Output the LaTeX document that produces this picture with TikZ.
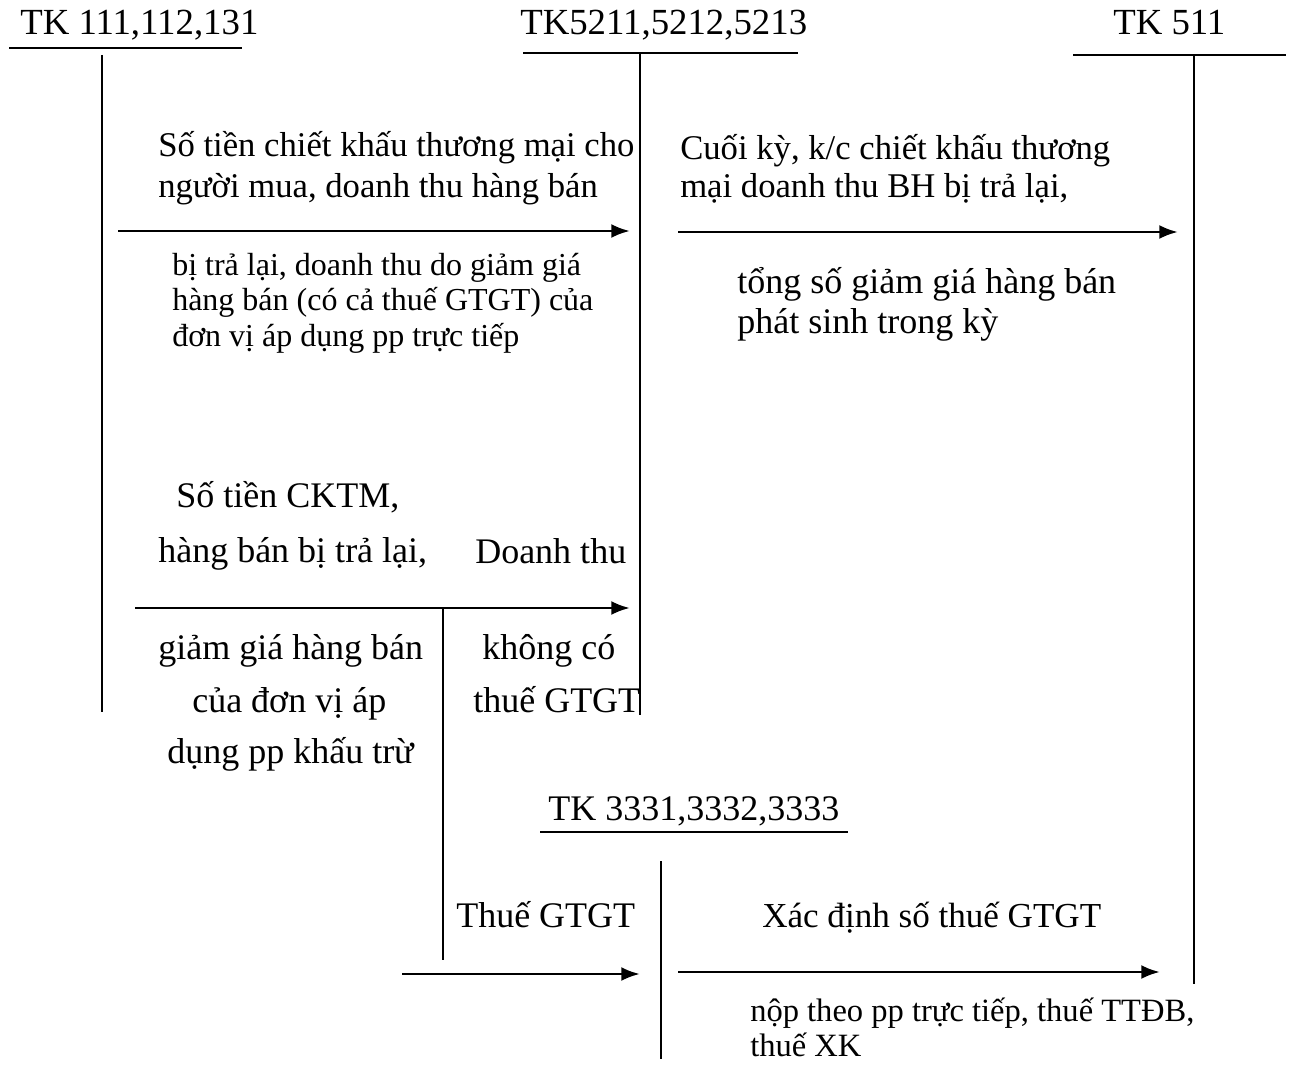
\documentclass[tikz,border=0pt]{standalone}
\usepackage{fontspec}
\setmainfont{Liberation Serif}
\usetikzlibrary{arrows.meta}
\begin{document}
\begin{tikzpicture}[x=0.75pt,y=-0.75pt,
  acct/.style={line width=2.2pt},
  flow/.style={line width=2.2pt,-{Latex[length=14pt,width=10.5pt]}},
  big/.style={anchor=base west,inner sep=0pt,font=\fontsize{27}{30}\selectfont},
  mid/.style={anchor=base west,inner sep=0pt,font=\fontsize{26}{30}\selectfont},
  head/.style={anchor=base west,inner sep=0pt,font=\fontsize{27.6}{30}\selectfont},
  small/.style={anchor=base west,inner sep=0pt,font=\fontsize{24}{27}\selectfont}]
\useasboundingbox (0,0) rectangle (1290,1066);

% account headings
\node[head] (h111) at (20,35) {TK 111,112,131};
\node[head] (h521) at (520,35) {TK5211,5212,5213};
\node[head] (h511) at (1113,35) {TK 511};
\node[big] (h333) at (548,820) {TK 3331,3332,3333};

% T-accounts
\coordinate (a1l) at (9,48);   \coordinate (a1r) at (242,48);
\coordinate (a1t) at (102,55); \coordinate (a1b) at (102,712);
\coordinate (a2l) at (523,53); \coordinate (a2r) at (798,53);
\coordinate (a2t) at (640,53); \coordinate (a2b) at (640,715);
\coordinate (a3l) at (1073,55); \coordinate (a3r) at (1286,55);
\coordinate (a3t) at (1194,55); \coordinate (a3b) at (1194,984);
\coordinate (a4l) at (540,832); \coordinate (a4r) at (848,832);
\coordinate (a4t) at (661,861); \coordinate (a4b) at (661,1059);
\draw[acct] (a1l) -- (a1r) (a1t) -- (a1b);
\draw[acct] (a2l) -- (a2r) (a2t) -- (a2b);
\draw[acct] (a3l) -- (a3r) (a3t) -- (a3b);
\draw[acct] (a4l) -- (a4r) (a4t) -- (a4b);

% flows
\coordinate (f1s) at (118,231);  \coordinate (f1e) at (630,231);
\coordinate (f2s) at (678,232);  \coordinate (f2e) at (1178,232);
\coordinate (f3s) at (135,608);  \coordinate (f3e) at (630,608);
\coordinate (f3t) at (443,608);  \coordinate (f3b) at (443,960);
\coordinate (f4s) at (402,974);  \coordinate (f4e) at (640,974);
\coordinate (f5s) at (678,972);  \coordinate (f5e) at (1160,972);
\draw[flow] (f1s) -- (f1e);
\draw[flow] (f2s) -- (f2e);
\draw[flow] (f3s) -- (f3e);
\draw[acct] (f3t) -- (f3b);
\draw[flow] (f4s) -- (f4e);
\draw[flow] (f5s) -- (f5e);

% labels
\node[mid] (t1a) at (158,157) {Số tiền chiết khấu thương mại cho};
\node[mid] (t1b) at (158,198) {người mua, doanh thu hàng bán};
\node[small] (t1c) at (172,276) {bị trả lại, doanh thu do giảm giá};
\node[small] (t1d) at (172,311) {hàng bán (có cả thuế GTGT) của};
\node[small] (t1e) at (172,347) {đơn vị áp dụng pp trực tiếp};

\node[mid] (t2a) at (680,160) {Cuối kỳ, k/c chiết khấu thương};
\node[mid] (t2b) at (680,198) {mại doanh thu BH bị trả lại,};
\node[big] (t2c) at (737,294) {tổng số giảm giá hàng bán};
\node[big] (t2d) at (737,334) {phát sinh trong kỳ};

\node[big] (t3a) at (176,508) {Số tiền CKTM,};
\node[big] (t3b) at (158,562) {hàng bán bị trả lại,};
\node[big] (t3c) at (158,659) {giảm giá hàng bán};
\node[big] (t3d) at (192,712) {của đơn vị áp};
\node[big] (t3e) at (167,763) {dụng pp khấu trừ};

\node[big] (t4a) at (475,563) {Doanh thu};
\node[big] (t4b) at (482,659) {không có};
\node[big] (t4c) at (473,712) {thuế GTGT};

\node[big] (t5a) at (456,927) {Thuế GTGT};
\node[big,font=\fontsize{26.3}{30}\selectfont] (t6a) at (762,927) {Xác định số thuế GTGT};
\node[small,font=\fontsize{24.4}{27}\selectfont] (t6b) at (750,1021) {nộp theo pp trực tiếp, thuế TTĐB,};
\node[small,font=\fontsize{24.4}{27}\selectfont] (t6c) at (750,1056) {thuế XK};
\end{tikzpicture}
\end{document}
